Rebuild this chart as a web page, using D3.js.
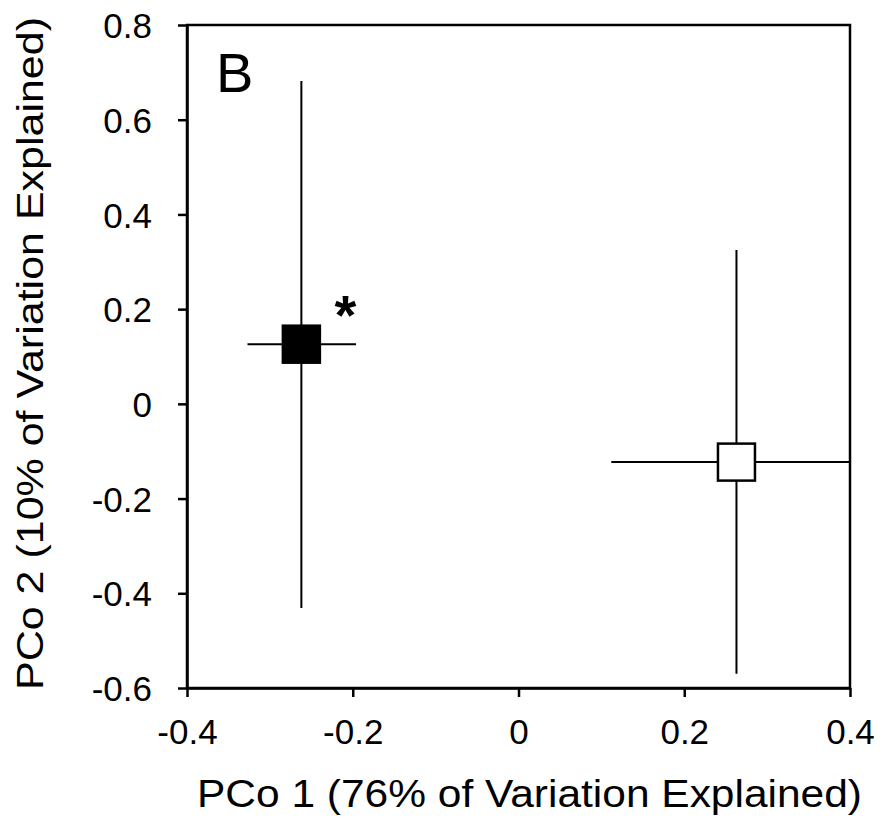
<!DOCTYPE html>
<html>
<head>
<meta charset="utf-8">
<script src="https://cdn.jsdelivr.net/npm/d3@7"></script>
<style>
  body { margin: 0; background: #fff; }
  text { font-family: "Liberation Sans", Arial, Helvetica, sans-serif; fill: #000; }
</style>
</head>
<body>
<svg width="884" height="821"></svg>
<script>
// Data
var groups = ["filled", "open"];
var pco1 = [-0.262, 0.263];
var pco2 = [0.126, -0.123];
var pco1Lo = [-0.327, 0.112];
var pco1Hi = [-0.196, 0.4];
var pco2Lo = [-0.431, -0.570];
var pco2Hi = [0.682, 0.325];
var xTicks = [-0.4, -0.2, 0, 0.2, 0.4];
var yTicks = [-0.6, -0.4, -0.2, 0, 0.2, 0.4, 0.6, 0.8];

var svg = d3.select("svg");

var x = d3.scaleLinear().domain([-0.4, 0.4]).range([187, 850]);
var y = d3.scaleLinear().domain([-0.6, 0.8]).range([688, 25]);

var fmt = function (d) { return d === 0 ? "0" : d3.format(".1f")(d).replace("\u2212", "-"); };

// frame
svg.append("rect")
  .attr("x", x(-0.4)).attr("y", y(0.8))
  .attr("width", x(0.4) - x(-0.4)).attr("height", y(-0.6) - y(0.8))
  .attr("fill", "none").attr("stroke", "#000").attr("stroke-width", 2.5);

// axes
var gx = svg.append("g").attr("transform", "translate(0," + y(-0.6) + ")")
  .call(d3.axisBottom(x).tickValues(xTicks).tickSize(9).tickSizeOuter(0).tickPadding(22).tickFormat(fmt));
var gy = svg.append("g").attr("transform", "translate(" + x(-0.4) + ",0)")
  .call(d3.axisLeft(y).tickValues(yTicks).tickSize(9).tickSizeOuter(0).tickPadding(26).tickFormat(fmt));

[gx, gy].forEach(function (g) {
  g.select(".domain").attr("stroke-width", 2.5);
  g.selectAll(".tick line").attr("stroke-width", 2.5);
  g.selectAll(".tick text").attr("font-size", 35).attr("font-family", "Liberation Sans, Arial, sans-serif");
});
gy.selectAll(".tick text").attr("dy", "0.36em");
gx.selectAll(".tick text").attr("dy", "0.72em");

// error bars
var plot = svg.append("g");
groups.forEach(function (gname, i) {
  plot.append("line")
    .attr("x1", x(pco1Lo[i])).attr("x2", x(pco1Hi[i]))
    .attr("y1", y(pco2[i])).attr("y2", y(pco2[i]))
    .attr("stroke", "#000").attr("stroke-width", 2);
  plot.append("line")
    .attr("x1", x(pco1[i])).attr("x2", x(pco1[i]))
    .attr("y1", y(pco2Lo[i])).attr("y2", y(pco2Hi[i]))
    .attr("stroke", "#000").attr("stroke-width", 2);
});

// markers
var size = 37;
plot.selectAll("rect.pt")
  .data(groups)
  .enter()
  .append("rect")
  .attr("class", "pt")
  .attr("x", function (d, i) { return x(pco1[i]) - size / 2; })
  .attr("y", function (d, i) { return y(pco2[i]) - size / 2; })
  .attr("width", size).attr("height", size)
  .attr("fill", function (d) { return d === "filled" ? "#000" : "#fff"; })
  .attr("stroke", "#000").attr("stroke-width", 2.5);

// significance mark
svg.append("text")
  .attr("x", x(pco1[0]) + 44).attr("y", y(pco2[0]) - 10)
  .attr("text-anchor", "middle")
  .attr("font-size", 56)
  .attr("font-weight", "bold")
  .text("*");

// panel letter
svg.append("text")
  .attr("x", 216).attr("y", 92)
  .attr("font-size", 56)
  .text("B");

// axis titles
svg.append("text")
  .attr("x", 197).attr("y", 807)
  .attr("font-size", 38)
  .attr("textLength", 665).attr("lengthAdjust", "spacingAndGlyphs")
  .text("PCo 1 (76% of Variation Explained)");

svg.append("text")
  .attr("transform", "translate(43,690) rotate(-90)")
  .attr("font-size", 37)
  .attr("textLength", 673).attr("lengthAdjust", "spacingAndGlyphs")
  .text("PCo 2 (10% of Variation Explained)");
</script>
</body>
</html>
